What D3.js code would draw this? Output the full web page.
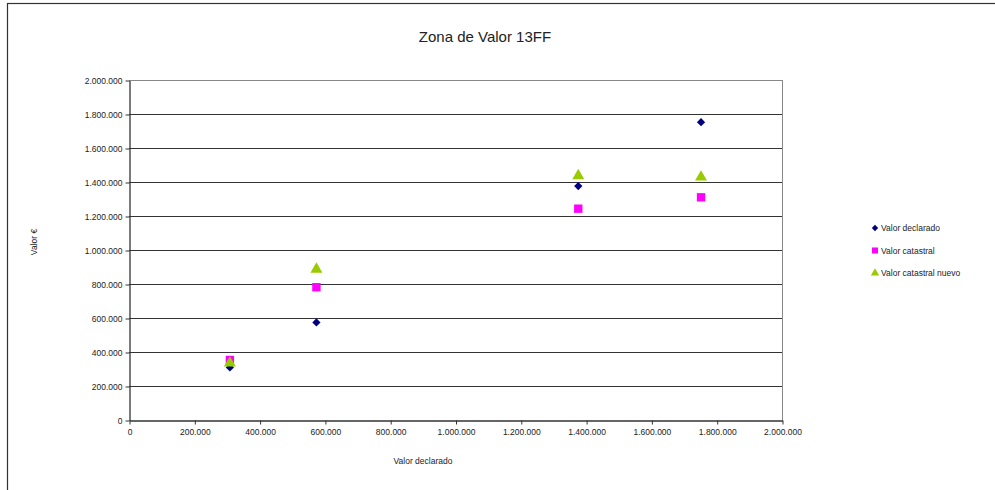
<!DOCTYPE html>
<html>
<head>
<meta charset="utf-8">
<style>
	body { margin: 0; background: #fff; }
	text { font-family: "Liberation Sans", Arial, sans-serif; fill: #222; }
</style>
</head>
<body>
<div id="chart"></div>
<script src="https://d3js.org/d3.v7.min.js"></script>
<script>
var declared = [309000, 574000, 1376000, 1752000];
var catastral = [353000, 781000, 1243000, 1310000];
var catastralNuevo = [335000, 887000, 1437000, 1429000];
var seriesNames = ["Valor declarado", "Valor catastral", "Valor catastral nuevo"];
var tickValues = [0, 200000, 400000, 600000, 800000, 1000000, 1200000, 1400000, 1600000, 1800000, 2000000];

var width = 995,
	height = 490,
	margins = {"top": 80, "bottom": 70, "left": 129, "right": 213};

var fmt = function(d) { return d3.format(",")(d).replace(/,/g, "."); };

var svg = d3.select("#chart")
	.append("svg")
	.attr("width", width)
	.attr("height", height)

// outer frame
svg.append("rect")
	.attr("x", 7.5).attr("y", 3.5)
	.attr("width", width).attr("height", height)
	.style("fill", "none").style("stroke", "#333").style("stroke-width", 1.2)

var xScale = d3.scaleLinear()
	.domain([0, 2000000])
	.range([margins.left, width - margins.right])

var yScale = d3.scaleLinear()
	.domain([0, 2000000])
	.range([height - margins.bottom, margins.top])

// gridlines
svg.append("g")
	.selectAll("line")
	.data(tickValues.slice(1))
	.enter()
	.append("line")
	.attr("x1", xScale(0)).attr("x2", xScale(2000000))
	.attr("y1", function(d) { return Math.round(yScale(d)) + 0.5 })
	.attr("y2", function(d) { return Math.round(yScale(d)) + 0.5 })
	.style("stroke", function(d) { return d == 2000000 ? "#888" : "#333" })
	.style("stroke-width", 1)

// right border of plot area
svg.append("line")
	.attr("x1", xScale(2000000) + 0.5).attr("x2", xScale(2000000) + 0.5)
	.attr("y1", yScale(2000000)).attr("y2", yScale(0))
	.style("stroke", "#888")

var yAxis = d3.axisLeft(yScale)
	.tickValues(tickValues)
	.tickFormat(fmt)
	.tickSizeInner(4)
	.tickSizeOuter(0)
	.tickPadding(3)

var xAxis = d3.axisBottom(xScale)
	.tickValues(tickValues)
	.tickFormat(fmt)
	.tickSizeInner(4)
	.tickSizeOuter(0)
	.tickPadding(4)

var yG = svg.append("g")
	.attr("transform", "translate(" + (margins.left + 0.5) + ",0.5)")
	.call(yAxis)

var xG = svg.append("g")
	.attr("transform", "translate(0.5," + (height - margins.bottom + 0.5) + ")")
	.call(xAxis)

;[yG, xG].forEach(function(g) {
	g.select(".domain").style("stroke", "#333").style("stroke-width", 1.3)
	g.selectAll(".tick line").style("stroke", "#333")
	g.selectAll(".tick text")
		.style("font-family", "'Liberation Sans', Arial, sans-serif")
		.style("font-size", "8.5px")
		.style("fill", "#222")
})

// title and axis titles
svg.append("text")
	.text("Zona de Valor 13FF")
	.attr("x", 485).attr("y", 42)
	.style("text-anchor", "middle")
	.style("font-size", "15px")

svg.append("text")
	.text("Valor declarado")
	.attr("x", 423).attr("y", 464)
	.style("text-anchor", "middle")
	.style("font-size", "8.5px")

svg.append("text")
	.text("Valor €")
	.attr("transform", "translate(37,242) rotate(-90)")
	.style("text-anchor", "middle")
	.style("font-size", "8.5px")

// diamonds are squares turned by 45 degrees, like the spreadsheet marker
var series = [
	{name: seriesNames[0], values: declared, shape: d3.symbolSquare, rotate: 45, size: 34, color: "#000080", legendSize: 20},
	{name: seriesNames[1], values: catastral, shape: d3.symbolSquare, rotate: 0, size: 70, color: "#FF00FF", legendSize: 36},
	{name: seriesNames[2], values: catastralNuevo, shape: d3.symbolTriangle, rotate: 0, size: 62, color: "#99CC00", legendSize: 30}
];

series.forEach(function(s) {
	svg.append("g")
		.attr("class", "series")
		.selectAll("path")
		.data(s.values)
		.enter()
		.append("path")
		.attr("d", d3.symbol().type(s.shape).size(s.size))
		.attr("transform", function(d, j) {
			return "translate(" + xScale(declared[j]) + "," + yScale(d) + ") rotate(" + s.rotate + ")"
		})
		.style("fill", s.color)
})

// legend
var legend = svg.append("g")
	.selectAll("g")
	.data(series)
	.enter()
	.append("g")
	.attr("transform", function(d, i) { return "translate(875," + (228 + i * 22.5) + ")" })

legend.append("path")
	.attr("d", function(d) { return d3.symbol().type(d.shape).size(d.legendSize)() })
	.attr("transform", function(d) { return "rotate(" + d.rotate + ")" })
	.style("fill", function(d) { return d.color })

legend.append("text")
	.text(function(d) { return d.name })
	.attr("x", 6).attr("y", 3)
	.style("font-size", "8.5px")
</script>
</body>
</html>
